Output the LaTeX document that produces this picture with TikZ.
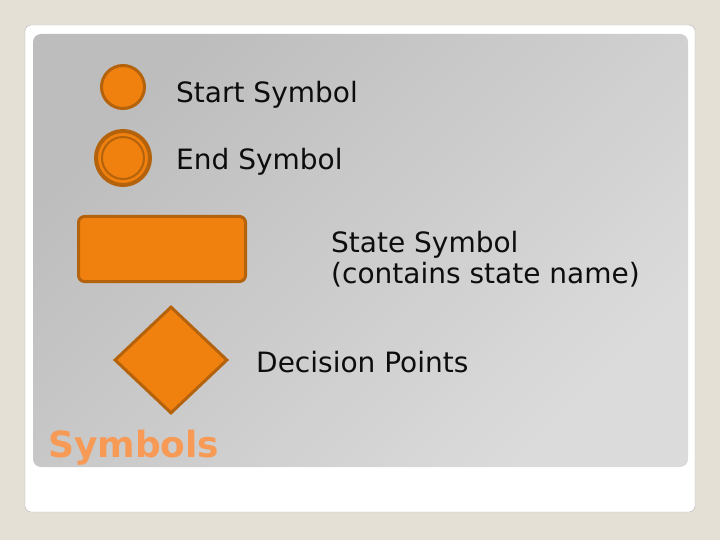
\documentclass[tikz,border=0pt]{standalone}
\usepackage{fontspec}
\setmainfont{DejaVu Sans}
\usetikzlibrary{shapes.geometric}
\definecolor{symfill}{HTML}{F0810F}
\definecolor{symline}{HTML}{B5620C}
\definecolor{titleorange}{HTML}{F79A55}
\definecolor{pagebg}{HTML}{E5E0D6}

\begin{document}
\begin{tikzpicture}[x=1pt,y=-1pt,
    sym/.style={draw=symline,fill=symfill,line width=3pt,inner sep=0pt},
    lbl/.style={anchor=base west,inner sep=0pt,text=black!95,
      font=\fontsize{28}{33}\selectfont}]
  \useasboundingbox (0,0) rectangle (720,540);
  \fill[pagebg] (0,0) rectangle (720,540);
  % Card
  \draw[draw=black!30,fill=white,rounded corners=6pt] (25,25) rectangle (695,512);
  \shade[
      top color=black!26, bottom color=black!14, shading angle={45}
      ][
      rounded corners=8pt
      ] (33,34) rectangle (688,467);

  % Start and end
  \node[sym,circle,minimum size=43pt] (start) at (123,87) {};
  \node[sym,circle,line width=4pt,minimum size=54pt] (end) at (123,158) {};
  \node[draw=symline,line width=2pt,circle,minimum size=42pt,inner sep=0pt] (endin) at (end.center) {};
  \node[lbl] (startlbl) at (176,103) {Start Symbol};
  \node[lbl] (endlbl) at (176,170) {End Symbol};

  % State
  \node[sym,rectangle,rounded corners=6pt,minimum width=167pt,minimum height=65pt] (state) at (162,249) {};
  \node[lbl] (statelbl) at (331,252) {State Symbol};
  \node[lbl] (statenote) at (331,283) {(contains state name)};

  % Decision
  \node[sym,diamond,minimum width=113pt,minimum height=107pt] (decision) at (171,360) {};
  \node[lbl] (decisionlbl) at (256,372) {Decision Points};

  \node[anchor=base west,inner sep=0pt,text=titleorange,
    font=\fontsize{36}{42}\selectfont\bfseries] (title) at (48,457) {Symbols};
\end{tikzpicture}
\end{document}
